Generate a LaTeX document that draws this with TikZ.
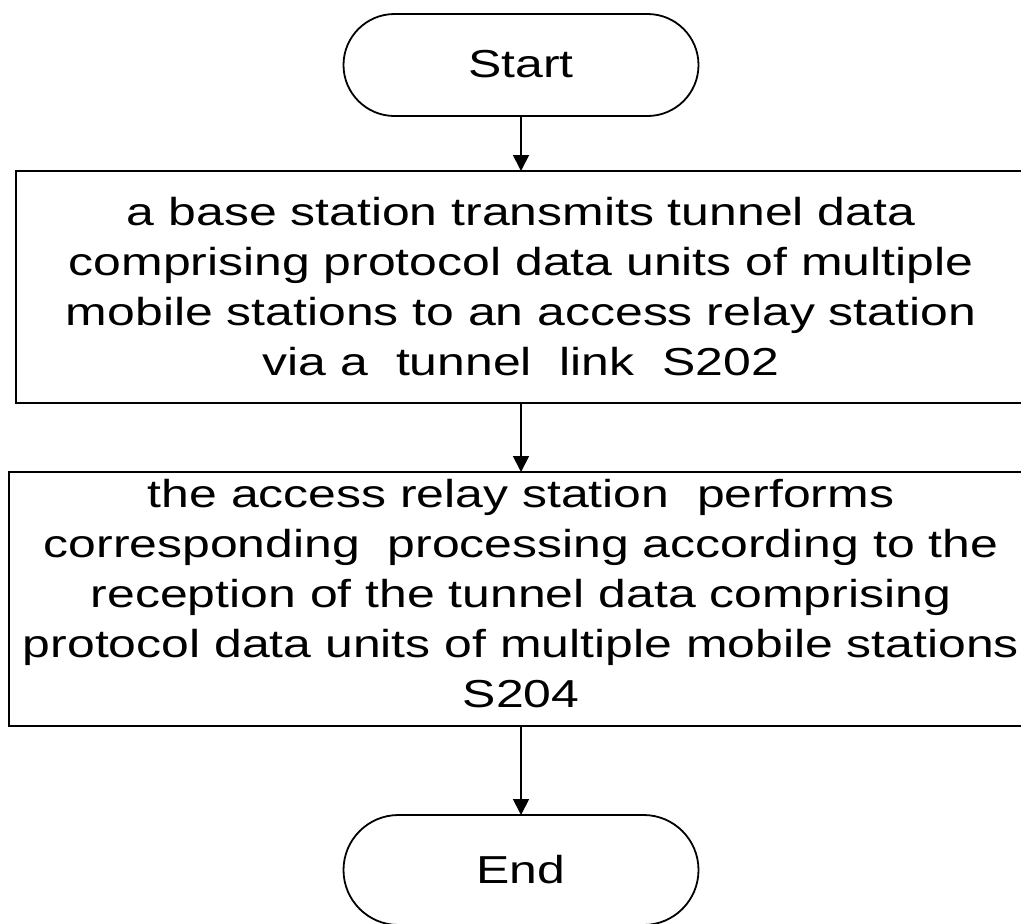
\documentclass[tikz,border=0pt]{standalone}
\usepackage{fontspec}
\setmainfont{Liberation Sans}[FakeStretch=1.28]
\usetikzlibrary{positioning,shapes.misc,arrows.meta}

\begin{document}
\begin{tikzpicture}[x=1pt,y=1pt,
    every node/.style={font=\fontsize{39}{50}\selectfont, outer sep=0pt, inner sep=0pt},
    term/.style={draw, line width=1.8pt, rounded rectangle, minimum width=355pt},
    stepbox/.style={draw, line width=1.8pt, rectangle, align=center},
    arr/.style={line width=1.8pt, -{Triangle[length=16pt,width=16pt]}}]
	  \useasboundingbox (0,0) rectangle (1021,-924);

	  \node[term, minimum height=102pt] (start) at (521,-65) {\raisebox{3pt}{Start}} ; %
	  \node[stepbox, below=55pt of start, minimum width=1010pt, minimum height=232pt] (s202)
	  {a base station transmits tunnel data\\
	   comprising protocol data units of multiple\\
	   mobile stations to an access relay station\\
	   via a\ \ tunnel\ \ link\ \ S202};
	  \node[stepbox, below=69pt of s202, minimum width=1024pt, minimum height=254pt] (s204)
	  {the access relay station\ \ performs\\
	   corresponding\ \ processing according to the\\
	   reception of the tunnel data comprising\\
	   protocol data units of multiple mobile stations\\
	   S204\rule[-12pt]{0pt}{12pt}};
	  \node[term, below=89pt of s204, minimum height=110pt] (fin) {End} ; %

	  \draw[arr] (start) -- (s202) ; %
	  \draw[arr] (s202) -- (s204) ;
	  \draw[arr] (s204) -- (fin) ;

\end{tikzpicture}
\end{document}
